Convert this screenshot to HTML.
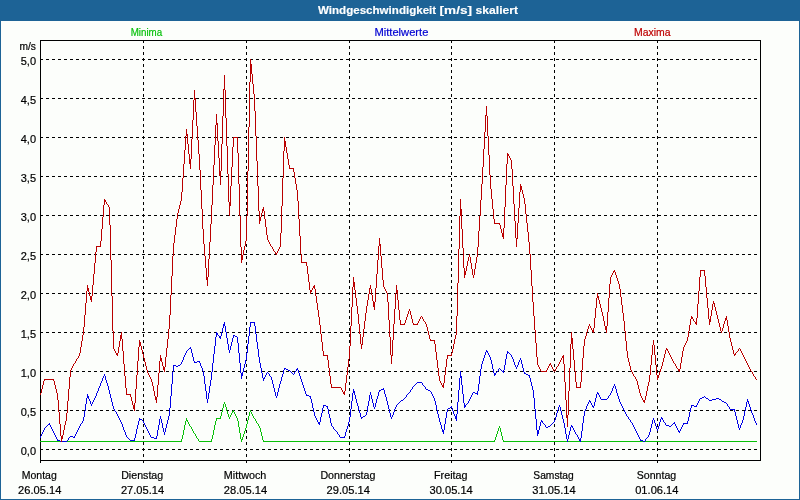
<!DOCTYPE html>
<html><head><meta charset="utf-8"><title>Windgeschwindigkeit</title>
<style>
html,body{margin:0;padding:0;background:#1d6396;}
body{width:800px;height:500px;overflow:hidden;font-family:"Liberation Sans",sans-serif;}
svg{display:block;will-change:transform;font-family:"Liberation Sans",sans-serif;font-size:11px;}
</style></head><body>
<svg width="800" height="500" viewBox="0 0 800 500">
<rect x="0" y="0" width="800" height="500" fill="#1d6396"/>
<rect x="0" y="0" width="800" height="20" fill="#1d6396"/>
<rect x="1" y="21" width="798" height="478" fill="#fcfefb"/>
<g fill="#ffffff" font-weight="bold" stroke="#ffffff" stroke-width="0.15">
<text x="318" y="14" textLength="118.2" lengthAdjust="spacingAndGlyphs">Windgeschwindigkeit</text>
<text x="439.6" y="14" textLength="32.4" lengthAdjust="spacingAndGlyphs">[m/s]</text>
<text x="475.6" y="14" textLength="42.4" lengthAdjust="spacingAndGlyphs">skaliert</text>
</g>
<text x="130.7" y="36" fill="#06c00a" stroke="#06c00a" stroke-width="0.2" textLength="31.5" lengthAdjust="spacingAndGlyphs">Minima</text>
<text x="374.4" y="36" fill="#0000d2" stroke="#0000d2" stroke-width="0.2" textLength="54" lengthAdjust="spacingAndGlyphs">Mittelwerte</text>
<text x="634" y="36" fill="#be0000" stroke="#be0000" stroke-width="0.2" textLength="36.5" lengthAdjust="spacingAndGlyphs">Maxima</text>
<g stroke="#000" stroke-width="1" stroke-dasharray="3,3" shape-rendering="crispEdges" fill="none">
<line x1="40" y1="59.5" x2="760" y2="59.5"/>
<line x1="40" y1="98.5" x2="760" y2="98.5"/>
<line x1="40" y1="137.5" x2="760" y2="137.5"/>
<line x1="40" y1="176.5" x2="760" y2="176.5"/>
<line x1="40" y1="215.5" x2="760" y2="215.5"/>
<line x1="40" y1="254.5" x2="760" y2="254.5"/>
<line x1="40" y1="293.5" x2="760" y2="293.5"/>
<line x1="40" y1="332.5" x2="760" y2="332.5"/>
<line x1="40" y1="371.5" x2="760" y2="371.5"/>
<line x1="40" y1="410.5" x2="760" y2="410.5"/>
<line x1="40" y1="449.5" x2="760" y2="449.5"/>
<line x1="143.5" y1="40" x2="143.5" y2="463"/>
<line x1="246.5" y1="40" x2="246.5" y2="463"/>
<line x1="349.5" y1="40" x2="349.5" y2="463"/>
<line x1="451.5" y1="40" x2="451.5" y2="463"/>
<line x1="554.5" y1="40" x2="554.5" y2="463"/>
<line x1="657.5" y1="40" x2="657.5" y2="463"/>
</g>
<rect x="40.5" y="40.5" width="720" height="420" fill="none" stroke="#000" stroke-width="1" shape-rendering="crispEdges"/>
<rect x="40" y="461" width="1" height="2" fill="#000" shape-rendering="crispEdges"/>
<g stroke="none" shape-rendering="crispEdges">
<path fill="#08c008" d="M40 441h142v1h-142zM199 441h13v1h-13zM263 441h232v1h-232zM503 441h254v1h-254zM216 418h5v1h-5zM181 439h1v2h-1zM182 435h1v4h-1zM183 430h1v5h-1zM184 425h1v5h-1zM185 421h1v4h-1zM186 418h1v3h-1zM187 420h1v2h-1zM188 422h1v2h-1zM189 424h1v2h-1zM190 426h1v1h-1zM191 427h1v2h-1zM192 429h1v2h-1zM193 431h1v2h-1zM194 433h1v1h-1zM195 434h1v2h-1zM196 436h1v2h-1zM197 438h1v1h-1zM198 439h1v2h-1zM211 439h1v2h-1zM212 435h1v4h-1zM213 430h1v5h-1zM214 425h1v5h-1zM215 421h1v4h-1zM216 419h1v2h-1zM220 416h1v2h-1zM221 412h1v4h-1zM222 408h1v4h-1zM223 404h1v4h-1zM224 402h1v2h-1zM225 404h1v3h-1zM226 407h1v4h-1zM227 411h1v3h-1zM228 414h1v3h-1zM229 417h1v2h-1zM230 415h1v2h-1zM231 413h1v2h-1zM232 411h1v2h-1zM233 410h1v2h-1zM234 412h1v2h-1zM235 414h1v2h-1zM236 416h1v2h-1zM237 418h1v3h-1zM238 421h1v6h-1zM239 427h1v6h-1zM240 433h1v6h-1zM241 439h1v3h-1zM242 437h1v3h-1zM243 434h1v3h-1zM244 431h1v3h-1zM245 428h1v3h-1zM246 424h1v4h-1zM247 420h1v4h-1zM248 416h1v4h-1zM249 412h1v4h-1zM250 410h1v2h-1zM251 412h1v2h-1zM252 414h1v2h-1zM253 416h1v2h-1zM254 418h1v1h-1zM255 419h1v2h-1zM256 421h1v2h-1zM257 423h1v1h-1zM258 424h1v2h-1zM259 426h1v2h-1zM260 428h1v4h-1zM261 432h1v4h-1zM262 436h1v4h-1zM263 440h1v1h-1zM494 440h1v1h-1zM495 437h1v3h-1zM496 434h1v3h-1zM497 431h1v3h-1zM498 428h1v3h-1zM499 426h1v2h-1zM500 428h1v4h-1zM501 432h1v4h-1zM502 436h1v4h-1zM503 440h1v1h-1z"/>
<path fill="#0000e6" d="M709 400h3v1h-3zM173 365h3v1h-3zM716 398h3v1h-3zM694 406h3v1h-3zM306 395h3v1h-3zM601 399h6v1h-6zM712 399h4v1h-4zM57 440h3v1h-3zM130 440h5v1h-5zM640 440h3v1h-3zM197 361h3v1h-3zM683 423h5v1h-5zM60 441h7v1h-7zM139 419h3v1h-3zM666 425h3v1h-3zM154 438h3v1h-3zM730 409h5v1h-5zM417 382h5v1h-5zM381 389h3v1h-3zM70 436h3v1h-3zM475 393h3v1h-3zM151 437h3v1h-3zM340 437h5v1h-5zM194 362h3v1h-3zM323 405h3v1h-3zM691 405h3v1h-3zM250 322h5v1h-5zM40 436h1v2h-1zM41 434h1v2h-1zM42 432h1v2h-1zM43 430h1v2h-1zM44 428h1v2h-1zM45 427h1v1h-1zM46 426h1v1h-1zM47 425h1v1h-1zM48 424h1v1h-1zM49 423h1v2h-1zM50 425h1v2h-1zM51 427h1v2h-1zM52 429h1v2h-1zM53 431h1v2h-1zM54 433h1v2h-1zM55 435h1v2h-1zM56 437h1v2h-1zM57 439h1v1h-1zM67 440h1v1h-1zM68 438h1v2h-1zM69 437h1v1h-1zM73 437h1v1h-1zM74 436h1v2h-1zM75 434h1v2h-1zM76 432h1v2h-1zM77 430h1v2h-1zM78 428h1v2h-1zM79 426h1v2h-1zM80 424h1v2h-1zM81 423h1v1h-1zM82 421h1v2h-1zM83 417h1v4h-1zM84 411h1v6h-1zM85 404h1v7h-1zM86 398h1v6h-1zM87 394h1v4h-1zM88 396h1v3h-1zM89 399h1v2h-1zM90 401h1v3h-1zM91 404h1v2h-1zM92 402h1v2h-1zM93 400h1v2h-1zM94 398h1v2h-1zM95 396h1v2h-1zM96 393h1v3h-1zM97 391h1v2h-1zM98 388h1v3h-1zM99 386h1v2h-1zM100 383h1v3h-1zM101 381h1v2h-1zM102 378h1v3h-1zM103 376h1v2h-1zM104 374h1v2h-1zM105 376h1v4h-1zM106 380h1v3h-1zM107 383h1v3h-1zM108 386h1v4h-1zM109 390h1v4h-1zM110 394h1v4h-1zM111 398h1v4h-1zM112 402h1v4h-1zM113 406h1v3h-1zM114 409h1v2h-1zM115 411h1v1h-1zM116 412h1v2h-1zM117 414h1v2h-1zM118 416h1v2h-1zM119 418h1v2h-1zM120 420h1v2h-1zM121 422h1v2h-1zM122 424h1v3h-1zM123 427h1v3h-1zM124 430h1v2h-1zM125 432h1v3h-1zM126 435h1v2h-1zM127 437h1v1h-1zM128 438h1v1h-1zM129 439h1v1h-1zM134 438h1v2h-1zM135 434h1v4h-1zM136 429h1v5h-1zM137 425h1v4h-1zM138 421h1v4h-1zM139 418h1v1h-1zM139 420h1v1h-1zM142 420h1v1h-1zM143 421h1v2h-1zM144 423h1v2h-1zM145 425h1v2h-1zM146 427h1v2h-1zM147 429h1v2h-1zM148 431h1v2h-1zM149 433h1v2h-1zM150 435h1v2h-1zM156 436h1v2h-1zM157 430h1v6h-1zM158 425h1v5h-1zM159 419h1v6h-1zM160 416h1v3h-1zM161 419h1v4h-1zM162 423h1v5h-1zM163 428h1v4h-1zM164 432h1v3h-1zM165 428h1v4h-1zM166 424h1v4h-1zM167 420h1v4h-1zM168 416h1v4h-1zM169 408h1v8h-1zM170 396h1v12h-1zM171 384h1v12h-1zM172 372h1v12h-1zM173 366h1v6h-1zM176 366h1v1h-1zM177 366h1v1h-1zM178 365h1v1h-1zM179 365h1v1h-1zM180 364h1v1h-1zM181 362h1v2h-1zM182 360h1v2h-1zM183 357h1v3h-1zM184 355h1v2h-1zM185 353h1v2h-1zM186 351h1v2h-1zM187 350h1v1h-1zM188 349h1v1h-1zM189 348h1v1h-1zM190 347h1v2h-1zM191 349h1v4h-1zM192 353h1v4h-1zM193 357h1v4h-1zM194 361h1v1h-1zM199 362h1v1h-1zM200 363h1v3h-1zM201 366h1v2h-1zM202 368h1v3h-1zM203 371h1v5h-1zM204 376h1v8h-1zM205 384h1v7h-1zM206 391h1v8h-1zM207 399h1v4h-1zM208 393h1v6h-1zM209 386h1v7h-1zM210 380h1v6h-1zM211 372h1v8h-1zM212 363h1v9h-1zM213 354h1v9h-1zM214 346h1v8h-1zM215 337h1v9h-1zM216 332h1v5h-1zM217 333h1v2h-1zM218 335h1v1h-1zM219 336h1v2h-1zM220 336h1v3h-1zM221 332h1v4h-1zM222 328h1v4h-1zM223 324h1v4h-1zM224 322h1v4h-1zM225 326h1v6h-1zM226 332h1v6h-1zM227 338h1v6h-1zM228 344h1v6h-1zM229 350h1v3h-1zM230 346h1v4h-1zM231 342h1v4h-1zM232 338h1v4h-1zM233 335h1v3h-1zM234 335h1v1h-1zM235 336h1v1h-1zM236 336h1v1h-1zM237 337h1v6h-1zM238 343h1v10h-1zM239 353h1v10h-1zM240 363h1v10h-1zM241 373h1v6h-1zM242 372h1v4h-1zM243 368h1v4h-1zM244 364h1v4h-1zM245 360h1v4h-1zM246 353h1v7h-1zM247 344h1v9h-1zM248 336h1v8h-1zM249 327h1v9h-1zM250 323h1v4h-1zM254 323h1v3h-1zM255 326h1v8h-1zM256 334h1v8h-1zM257 342h1v7h-1zM258 349h1v8h-1zM259 357h1v6h-1zM260 363h1v5h-1zM261 368h1v5h-1zM262 373h1v5h-1zM263 378h1v3h-1zM264 377h1v2h-1zM265 375h1v2h-1zM266 373h1v2h-1zM267 372h1v1h-1zM268 373h1v1h-1zM269 374h1v2h-1zM270 376h1v1h-1zM271 377h1v3h-1zM272 380h1v4h-1zM273 384h1v4h-1zM274 388h1v4h-1zM275 392h1v4h-1zM276 396h1v2h-1zM277 392h1v4h-1zM278 388h1v4h-1zM279 384h1v4h-1zM280 381h1v3h-1zM281 377h1v4h-1zM282 374h1v3h-1zM283 370h1v4h-1zM284 368h1v2h-1zM285 368h1v1h-1zM286 369h1v1h-1zM287 369h1v1h-1zM288 370h1v1h-1zM289 370h1v1h-1zM290 371h1v1h-1zM291 372h1v1h-1zM292 373h1v1h-1zM293 374h1v1h-1zM294 372h1v2h-1zM295 371h1v1h-1zM296 369h1v2h-1zM297 368h1v2h-1zM298 370h1v3h-1zM299 373h1v3h-1zM300 376h1v3h-1zM301 379h1v3h-1zM302 382h1v3h-1zM303 385h1v3h-1zM304 388h1v3h-1zM305 391h1v3h-1zM306 394h1v1h-1zM309 396h1v1h-1zM310 396h1v3h-1zM311 399h1v4h-1zM312 403h1v5h-1zM313 408h1v4h-1zM314 412h1v4h-1zM315 416h1v2h-1zM316 418h1v2h-1zM317 420h1v2h-1zM318 422h1v2h-1zM319 422h1v3h-1zM320 417h1v5h-1zM321 413h1v4h-1zM322 408h1v5h-1zM323 406h1v2h-1zM326 406h1v1h-1zM327 406h1v3h-1zM328 409h1v5h-1zM329 414h1v4h-1zM330 418h1v5h-1zM331 423h1v3h-1zM332 426h1v1h-1zM333 427h1v2h-1zM334 429h1v1h-1zM335 430h1v1h-1zM336 431h1v1h-1zM337 432h1v2h-1zM338 434h1v1h-1zM339 435h1v2h-1zM344 436h1v1h-1zM345 432h1v4h-1zM346 429h1v3h-1zM347 426h1v3h-1zM348 422h1v4h-1zM349 417h1v5h-1zM350 409h1v8h-1zM351 401h1v8h-1zM352 393h1v8h-1zM353 389h1v4h-1zM354 391h1v4h-1zM355 395h1v4h-1zM356 399h1v4h-1zM357 403h1v3h-1zM358 406h1v4h-1zM359 410h1v3h-1zM360 413h1v4h-1zM361 417h1v2h-1zM362 417h1v1h-1zM363 416h1v1h-1zM364 416h1v1h-1zM365 415h1v1h-1zM366 412h1v3h-1zM367 406h1v6h-1zM368 401h1v5h-1zM369 395h1v6h-1zM370 392h1v3h-1zM371 395h1v4h-1zM372 399h1v4h-1zM373 403h1v4h-1zM374 407h1v2h-1zM375 403h1v4h-1zM376 399h1v4h-1zM377 396h1v3h-1zM378 392h1v4h-1zM379 390h1v2h-1zM380 390h1v1h-1zM383 388h1v1h-1zM384 390h1v4h-1zM385 394h1v3h-1zM386 397h1v4h-1zM387 401h1v4h-1zM388 405h1v4h-1zM389 409h1v4h-1zM390 413h1v4h-1zM391 417h1v2h-1zM392 415h1v2h-1zM393 412h1v3h-1zM394 409h1v3h-1zM395 407h1v2h-1zM396 405h1v2h-1zM397 404h1v1h-1zM398 403h1v1h-1zM399 402h1v1h-1zM400 401h1v1h-1zM401 400h1v1h-1zM402 400h1v1h-1zM403 399h1v1h-1zM404 398h1v1h-1zM405 397h1v1h-1zM406 395h1v2h-1zM407 394h1v1h-1zM408 393h1v1h-1zM409 392h1v1h-1zM410 390h1v2h-1zM411 389h1v1h-1zM412 387h1v2h-1zM413 386h1v1h-1zM414 385h1v1h-1zM415 384h1v1h-1zM416 383h1v1h-1zM422 383h1v2h-1zM423 385h1v1h-1zM424 386h1v1h-1zM425 387h1v2h-1zM426 389h1v1h-1zM427 389h1v1h-1zM428 390h1v1h-1zM429 390h1v1h-1zM430 391h1v1h-1zM431 392h1v2h-1zM432 394h1v2h-1zM433 396h1v2h-1zM434 398h1v3h-1zM435 401h1v4h-1zM436 405h1v5h-1zM437 410h1v4h-1zM438 414h1v4h-1zM439 418h1v4h-1zM440 422h1v3h-1zM441 425h1v4h-1zM442 429h1v3h-1zM443 430h1v4h-1zM444 424h1v6h-1zM445 418h1v6h-1zM446 412h1v6h-1zM447 409h1v3h-1zM448 408h1v1h-1zM449 408h1v1h-1zM450 407h1v1h-1zM451 406h1v2h-1zM452 408h1v3h-1zM453 411h1v3h-1zM454 414h1v2h-1zM455 416h1v3h-1zM456 414h1v7h-1zM457 402h1v12h-1zM458 390h1v12h-1zM459 378h1v12h-1zM460 371h1v7h-1zM461 376h1v9h-1zM462 385h1v9h-1zM463 394h1v9h-1zM464 403h1v5h-1zM465 405h1v2h-1zM466 404h1v1h-1zM467 403h1v1h-1zM468 401h1v2h-1zM469 399h1v2h-1zM470 397h1v2h-1zM471 395h1v2h-1zM472 393h1v2h-1zM473 392h1v1h-1zM474 392h1v1h-1zM477 391h1v2h-1zM477 394h1v1h-1zM478 384h1v7h-1zM479 376h1v8h-1zM480 369h1v7h-1zM481 364h1v5h-1zM482 361h1v3h-1zM483 358h1v3h-1zM484 355h1v3h-1zM485 352h1v3h-1zM486 350h1v2h-1zM487 351h1v2h-1zM488 353h1v2h-1zM489 355h1v2h-1zM490 357h1v3h-1zM491 360h1v4h-1zM492 364h1v5h-1zM493 369h1v4h-1zM494 373h1v3h-1zM495 373h1v2h-1zM496 372h1v1h-1zM497 371h1v1h-1zM498 369h1v2h-1zM499 368h1v1h-1zM500 369h1v1h-1zM501 370h1v1h-1zM502 371h1v1h-1zM503 370h1v3h-1zM504 365h1v5h-1zM505 359h1v6h-1zM506 354h1v5h-1zM507 351h1v3h-1zM508 352h1v1h-1zM509 353h1v1h-1zM510 354h1v1h-1zM511 355h1v2h-1zM512 357h1v2h-1zM513 359h1v3h-1zM514 362h1v3h-1zM515 365h1v2h-1zM516 367h1v2h-1zM517 365h1v2h-1zM518 362h1v3h-1zM519 360h1v2h-1zM520 358h1v2h-1zM521 360h1v4h-1zM522 364h1v4h-1zM523 368h1v4h-1zM524 372h1v2h-1zM525 373h1v1h-1zM526 374h1v1h-1zM527 374h1v1h-1zM528 375h1v1h-1zM529 375h1v3h-1zM530 378h1v4h-1zM531 382h1v4h-1zM532 386h1v4h-1zM533 390h1v8h-1zM534 398h1v11h-1zM535 409h1v10h-1zM536 419h1v11h-1zM537 430h1v6h-1zM538 430h1v4h-1zM539 426h1v4h-1zM540 422h1v4h-1zM541 420h1v2h-1zM542 421h1v2h-1zM543 423h1v1h-1zM544 424h1v1h-1zM545 425h1v2h-1zM546 427h1v1h-1zM547 427h1v1h-1zM548 426h1v1h-1zM549 426h1v1h-1zM550 425h1v1h-1zM551 424h1v1h-1zM552 423h1v1h-1zM553 422h1v1h-1zM554 420h1v2h-1zM555 417h1v3h-1zM556 413h1v4h-1zM557 410h1v3h-1zM558 407h1v3h-1zM559 405h1v2h-1zM560 407h1v4h-1zM561 411h1v4h-1zM562 415h1v4h-1zM563 419h1v4h-1zM564 423h1v5h-1zM565 428h1v6h-1zM566 434h1v5h-1zM567 439h1v3h-1zM568 435h1v4h-1zM569 431h1v4h-1zM570 427h1v4h-1zM571 425h1v2h-1zM572 426h1v2h-1zM573 428h1v2h-1zM574 430h1v2h-1zM575 432h1v2h-1zM576 434h1v1h-1zM577 435h1v2h-1zM578 437h1v2h-1zM579 439h1v2h-1zM580 438h1v4h-1zM581 431h1v7h-1zM582 423h1v8h-1zM583 416h1v7h-1zM584 411h1v5h-1zM585 409h1v2h-1zM586 406h1v3h-1zM587 404h1v2h-1zM588 402h1v2h-1zM589 400h1v2h-1zM590 401h1v2h-1zM591 403h1v2h-1zM592 405h1v2h-1zM593 406h1v2h-1zM594 402h1v4h-1zM595 398h1v4h-1zM596 394h1v4h-1zM597 392h1v2h-1zM598 393h1v2h-1zM599 395h1v2h-1zM600 397h1v2h-1zM607 398h1v1h-1zM608 396h1v2h-1zM609 395h1v1h-1zM610 393h1v2h-1zM611 391h1v2h-1zM612 388h1v3h-1zM613 386h1v2h-1zM614 384h1v2h-1zM615 386h1v3h-1zM616 389h1v4h-1zM617 393h1v3h-1zM618 396h1v3h-1zM619 399h1v3h-1zM620 402h1v2h-1zM621 404h1v2h-1zM622 406h1v2h-1zM623 408h1v2h-1zM624 410h1v2h-1zM625 412h1v2h-1zM626 414h1v2h-1zM627 416h1v1h-1zM628 417h1v2h-1zM629 419h1v1h-1zM630 420h1v2h-1zM631 422h1v1h-1zM632 423h1v2h-1zM633 425h1v2h-1zM634 427h1v2h-1zM635 429h1v2h-1zM636 431h1v2h-1zM637 433h1v2h-1zM638 435h1v2h-1zM639 437h1v2h-1zM640 439h1v1h-1zM643 441h1v1h-1zM644 441h1v1h-1zM645 439h1v2h-1zM646 438h1v1h-1zM647 437h1v1h-1zM648 435h1v2h-1zM649 432h1v3h-1zM650 428h1v4h-1zM651 424h1v4h-1zM652 420h1v4h-1zM653 418h1v2h-1zM654 420h1v3h-1zM655 423h1v3h-1zM656 426h1v3h-1zM657 429h1v2h-1zM658 426h1v3h-1zM659 422h1v4h-1zM660 419h1v3h-1zM661 417h1v2h-1zM662 418h1v2h-1zM663 420h1v2h-1zM664 422h1v1h-1zM665 423h1v2h-1zM669 426h1v1h-1zM670 426h1v1h-1zM671 425h1v1h-1zM672 424h1v1h-1zM673 423h1v1h-1zM674 422h1v2h-1zM675 424h1v2h-1zM676 426h1v2h-1zM677 428h1v2h-1zM678 430h1v2h-1zM679 431h1v2h-1zM680 429h1v2h-1zM681 427h1v2h-1zM682 425h1v2h-1zM683 424h1v1h-1zM687 421h1v2h-1zM688 417h1v4h-1zM689 412h1v5h-1zM690 408h1v4h-1zM691 406h1v2h-1zM696 405h1v1h-1zM697 403h1v2h-1zM698 401h1v2h-1zM699 399h1v2h-1zM700 398h1v1h-1zM701 398h1v1h-1zM702 397h1v1h-1zM703 397h1v1h-1zM704 396h1v1h-1zM705 397h1v1h-1zM706 398h1v1h-1zM707 398h1v1h-1zM708 399h1v1h-1zM719 399h1v1h-1zM720 399h1v1h-1zM721 400h1v1h-1zM722 401h1v1h-1zM723 401h1v1h-1zM724 402h1v1h-1zM725 402h1v1h-1zM726 403h1v1h-1zM727 404h1v2h-1zM728 406h1v1h-1zM729 407h1v2h-1zM734 410h1v2h-1zM735 412h1v4h-1zM736 416h1v4h-1zM737 420h1v4h-1zM738 424h1v4h-1zM739 428h1v2h-1zM740 425h1v3h-1zM741 423h1v2h-1zM742 420h1v3h-1zM743 416h1v4h-1zM744 411h1v5h-1zM745 407h1v4h-1zM746 402h1v5h-1zM747 399h1v3h-1zM748 401h1v3h-1zM749 404h1v3h-1zM750 407h1v3h-1zM751 410h1v3h-1zM752 413h1v2h-1zM753 415h1v3h-1zM754 418h1v3h-1zM755 421h1v2h-1zM756 423h1v2h-1z"/>
<path fill="#ba0000" d="M289 168h5v1h-5zM400 324h5v1h-5zM413 324h5v1h-5zM323 355h5v1h-5zM447 355h5v1h-5zM541 371h6v1h-6zM700 270h5v1h-5zM126 394h5v1h-5zM430 340h5v1h-5zM494 223h6v1h-6zM331 387h10v1h-10zM576 387h5v1h-5zM301 262h6v1h-6zM96 246h5v1h-5zM44 379h10v1h-10zM233 137h5v1h-5zM40 393h1v2h-1zM41 389h1v4h-1zM42 385h1v4h-1zM43 381h1v4h-1zM44 380h1v1h-1zM53 380h1v1h-1zM54 381h1v4h-1zM55 385h1v4h-1zM56 389h1v4h-1zM57 393h1v7h-1zM58 400h1v12h-1zM59 412h1v12h-1zM60 424h1v12h-1zM61 436h1v6h-1zM62 435h1v4h-1zM63 430h1v5h-1zM64 425h1v5h-1zM65 421h1v4h-1zM66 413h1v8h-1zM67 401h1v12h-1zM68 389h1v12h-1zM69 377h1v12h-1zM70 370h1v7h-1zM71 368h1v2h-1zM72 366h1v2h-1zM73 364h1v2h-1zM74 363h1v1h-1zM75 361h1v2h-1zM76 359h1v2h-1zM77 358h1v1h-1zM78 356h1v2h-1zM79 353h1v3h-1zM80 347h1v6h-1zM81 341h1v6h-1zM82 335h1v6h-1zM83 327h1v8h-1zM84 315h1v12h-1zM85 303h1v12h-1zM86 291h1v12h-1zM87 285h1v6h-1zM88 288h1v4h-1zM89 292h1v4h-1zM90 296h1v4h-1zM91 296h1v6h-1zM92 285h1v11h-1zM93 274h1v11h-1zM94 263h1v11h-1zM95 252h1v11h-1zM96 247h1v5h-1zM100 241h1v5h-1zM101 229h1v12h-1zM102 217h1v12h-1zM103 205h1v12h-1zM104 199h1v6h-1zM105 200h1v2h-1zM106 202h1v2h-1zM107 204h1v1h-1zM108 205h1v2h-1zM109 207h1v18h-1zM110 225h1v35h-1zM111 260h1v36h-1zM112 296h1v35h-1zM113 331h1v18h-1zM114 349h1v2h-1zM115 351h1v2h-1zM116 353h1v2h-1zM117 353h1v3h-1zM118 347h1v6h-1zM119 341h1v6h-1zM120 335h1v6h-1zM121 332h1v7h-1zM122 339h1v12h-1zM123 351h1v13h-1zM124 364h1v12h-1zM125 376h1v12h-1zM126 388h1v6h-1zM130 395h1v2h-1zM131 397h1v4h-1zM132 401h1v4h-1zM133 405h1v4h-1zM134 403h1v8h-1zM135 389h1v14h-1zM136 375h1v14h-1zM137 361h1v14h-1zM138 347h1v14h-1zM139 340h1v7h-1zM140 342h1v4h-1zM141 346h1v4h-1zM142 350h1v4h-1zM143 354h1v4h-1zM144 358h1v4h-1zM145 362h1v4h-1zM146 366h1v4h-1zM147 370h1v3h-1zM148 373h1v2h-1zM149 375h1v2h-1zM150 377h1v2h-1zM151 379h1v3h-1zM152 382h1v4h-1zM153 386h1v5h-1zM154 391h1v5h-1zM155 396h1v4h-1zM156 397h1v6h-1zM157 385h1v12h-1zM158 373h1v12h-1zM159 361h1v12h-1zM160 355h1v6h-1zM161 358h1v4h-1zM162 362h1v4h-1zM163 366h1v4h-1zM164 367h1v5h-1zM165 357h1v10h-1zM166 348h1v9h-1zM167 339h1v9h-1zM168 329h1v10h-1zM169 315h1v14h-1zM170 295h1v20h-1zM171 276h1v19h-1zM172 256h1v20h-1zM173 243h1v13h-1zM174 235h1v8h-1zM175 227h1v8h-1zM176 219h1v8h-1zM177 213h1v6h-1zM178 209h1v4h-1zM179 205h1v4h-1zM180 201h1v4h-1zM181 192h1v9h-1zM182 178h1v14h-1zM183 164h1v14h-1zM184 150h1v14h-1zM185 136h1v14h-1zM186 129h1v7h-1zM187 134h1v10h-1zM188 144h1v10h-1zM189 154h1v10h-1zM190 159h1v10h-1zM191 139h1v20h-1zM192 120h1v19h-1zM193 100h1v20h-1zM194 90h1v10h-1zM195 98h1v14h-1zM196 112h1v14h-1zM197 126h1v14h-1zM198 140h1v14h-1zM199 154h1v16h-1zM200 170h1v20h-1zM201 190h1v19h-1zM202 209h1v20h-1zM203 229h1v15h-1zM204 244h1v12h-1zM205 256h1v12h-1zM206 268h1v12h-1zM207 277h1v9h-1zM208 259h1v18h-1zM209 242h1v17h-1zM210 224h1v18h-1zM211 205h1v19h-1zM212 185h1v20h-1zM213 165h1v20h-1zM214 145h1v20h-1zM215 125h1v20h-1zM216 114h1v11h-1zM217 123h1v18h-1zM218 141h1v17h-1zM219 158h1v18h-1zM220 171h1v14h-1zM221 144h1v27h-1zM222 116h1v28h-1zM223 89h1v27h-1zM224 75h1v15h-1zM225 90h1v28h-1zM226 118h1v28h-1zM227 146h1v28h-1zM228 174h1v28h-1zM229 202h1v14h-1zM230 186h1v20h-1zM231 167h1v19h-1zM232 147h1v20h-1zM233 138h1v9h-1zM237 138h1v15h-1zM238 153h1v31h-1zM239 184h1v32h-1zM240 216h1v31h-1zM241 247h1v16h-1zM242 255h1v5h-1zM243 250h1v5h-1zM244 246h1v4h-1zM245 241h1v5h-1zM246 216h1v25h-1zM247 171h1v45h-1zM248 127h1v44h-1zM249 82h1v45h-1zM250 59h1v23h-1zM251 64h1v10h-1zM252 74h1v10h-1zM253 84h1v10h-1zM254 94h1v17h-1zM255 111h1v25h-1zM256 136h1v25h-1zM257 161h1v25h-1zM258 186h1v25h-1zM259 211h1v13h-1zM260 217h1v4h-1zM261 213h1v4h-1zM262 209h1v4h-1zM263 207h1v4h-1zM264 211h1v8h-1zM265 219h1v8h-1zM266 227h1v8h-1zM267 235h1v5h-1zM268 240h1v2h-1zM269 242h1v2h-1zM270 244h1v2h-1zM271 246h1v1h-1zM272 247h1v2h-1zM273 249h1v2h-1zM274 251h1v1h-1zM275 252h1v2h-1zM276 253h1v2h-1zM277 251h1v2h-1zM278 249h1v2h-1zM279 247h1v2h-1zM280 233h1v14h-1zM281 206h1v27h-1zM282 178h1v28h-1zM283 151h1v27h-1zM284 137h1v14h-1zM285 141h1v6h-1zM286 147h1v6h-1zM287 153h1v6h-1zM288 159h1v6h-1zM289 165h1v3h-1zM293 169h1v3h-1zM294 172h1v6h-1zM295 178h1v6h-1zM296 184h1v6h-1zM297 190h1v11h-1zM298 201h1v18h-1zM299 219h1v17h-1zM300 236h1v18h-1zM301 254h1v8h-1zM306 263h1v3h-1zM307 266h1v8h-1zM308 274h1v8h-1zM309 282h1v8h-1zM310 290h1v4h-1zM311 290h1v2h-1zM312 288h1v2h-1zM313 286h1v2h-1zM314 285h1v4h-1zM315 289h1v7h-1zM316 296h1v7h-1zM317 303h1v7h-1zM318 310h1v7h-1zM319 317h1v8h-1zM320 325h1v9h-1zM321 334h1v8h-1zM322 342h1v9h-1zM323 351h1v4h-1zM327 356h1v4h-1zM328 360h1v8h-1zM329 368h1v8h-1zM330 376h1v8h-1zM331 384h1v3h-1zM341 388h1v2h-1zM342 390h1v2h-1zM343 392h1v2h-1zM344 391h1v4h-1zM345 383h1v8h-1zM346 375h1v8h-1zM347 367h1v8h-1zM348 359h1v8h-1zM349 346h1v13h-1zM350 326h1v20h-1zM351 307h1v19h-1zM352 287h1v20h-1zM353 277h1v10h-1zM354 282h1v8h-1zM355 290h1v8h-1zM356 298h1v8h-1zM357 306h1v8h-1zM358 314h1v10h-1zM359 324h1v10h-1zM360 334h1v10h-1zM361 344h1v5h-1zM362 337h1v8h-1zM363 329h1v8h-1zM364 321h1v8h-1zM365 313h1v8h-1zM366 306h1v7h-1zM367 300h1v6h-1zM368 294h1v6h-1zM369 288h1v6h-1zM370 285h1v4h-1zM371 289h1v6h-1zM372 295h1v6h-1zM373 301h1v6h-1zM374 302h1v8h-1zM375 288h1v14h-1zM376 274h1v14h-1zM377 260h1v14h-1zM378 246h1v14h-1zM379 238h1v8h-1zM380 244h1v12h-1zM381 256h1v12h-1zM382 268h1v12h-1zM383 280h1v7h-1zM384 287h1v2h-1zM385 289h1v2h-1zM386 291h1v2h-1zM387 293h1v9h-1zM388 302h1v18h-1zM389 320h1v17h-1zM390 337h1v18h-1zM391 355h1v9h-1zM392 340h1v16h-1zM393 324h1v16h-1zM394 309h1v15h-1zM395 293h1v16h-1zM396 285h1v8h-1zM397 290h1v10h-1zM398 300h1v10h-1zM399 310h1v10h-1zM400 320h1v4h-1zM404 323h1v1h-1zM405 320h1v3h-1zM406 317h1v3h-1zM407 314h1v3h-1zM408 311h1v3h-1zM409 309h1v2h-1zM410 311h1v4h-1zM411 315h1v4h-1zM412 319h1v4h-1zM413 323h1v1h-1zM417 323h1v1h-1zM418 321h1v2h-1zM419 319h1v2h-1zM420 317h1v2h-1zM421 316h1v1h-1zM422 317h1v2h-1zM423 319h1v2h-1zM424 321h1v1h-1zM425 322h1v2h-1zM426 324h1v3h-1zM427 327h1v4h-1zM428 331h1v4h-1zM429 335h1v4h-1zM430 339h1v1h-1zM434 341h1v3h-1zM435 344h1v8h-1zM436 352h1v8h-1zM437 360h1v8h-1zM438 368h1v8h-1zM439 376h1v5h-1zM440 381h1v2h-1zM441 383h1v2h-1zM442 385h1v2h-1zM443 383h1v5h-1zM444 375h1v8h-1zM445 367h1v8h-1zM446 359h1v8h-1zM447 356h1v3h-1zM451 353h1v2h-1zM452 349h1v4h-1zM453 344h1v5h-1zM454 339h1v5h-1zM455 335h1v4h-1zM456 316h1v19h-1zM457 283h1v33h-1zM458 249h1v34h-1zM459 216h1v33h-1zM460 199h1v17h-1zM461 209h1v20h-1zM462 229h1v19h-1zM463 248h1v20h-1zM464 268h1v10h-1zM465 271h1v4h-1zM466 266h1v5h-1zM467 261h1v5h-1zM468 257h1v4h-1zM469 254h1v3h-1zM470 257h1v6h-1zM471 263h1v6h-1zM472 269h1v6h-1zM473 275h1v3h-1zM474 269h1v6h-1zM475 263h1v6h-1zM476 257h1v6h-1zM477 247h1v10h-1zM478 231h1v16h-1zM479 216h1v15h-1zM480 200h1v16h-1zM481 184h1v16h-1zM482 167h1v17h-1zM483 149h1v18h-1zM484 132h1v17h-1zM485 115h1v17h-1zM486 106h1v10h-1zM487 116h1v20h-1zM488 136h1v19h-1zM489 155h1v20h-1zM490 175h1v14h-1zM491 189h1v10h-1zM492 199h1v10h-1zM493 209h1v10h-1zM494 219h1v4h-1zM499 224h1v1h-1zM500 225h1v4h-1zM501 229h1v4h-1zM502 233h1v4h-1zM503 228h1v11h-1zM504 207h1v21h-1zM505 185h1v22h-1zM506 164h1v21h-1zM507 153h1v11h-1zM508 154h1v2h-1zM509 156h1v2h-1zM510 158h1v2h-1zM511 160h1v9h-1zM512 169h1v17h-1zM513 186h1v18h-1zM514 204h1v17h-1zM515 221h1v17h-1zM516 238h1v9h-1zM517 223h1v16h-1zM518 208h1v15h-1zM519 192h1v16h-1zM520 184h1v8h-1zM521 186h1v4h-1zM522 190h1v4h-1zM523 194h1v4h-1zM524 198h1v6h-1zM525 204h1v10h-1zM526 214h1v9h-1zM527 223h1v9h-1zM528 232h1v10h-1zM529 242h1v12h-1zM530 254h1v16h-1zM531 270h1v16h-1zM532 286h1v16h-1zM533 302h1v14h-1zM534 316h1v14h-1zM535 330h1v13h-1zM536 343h1v14h-1zM537 357h1v8h-1zM538 365h1v2h-1zM539 367h1v2h-1zM540 369h1v2h-1zM546 370h1v1h-1zM547 368h1v2h-1zM548 366h1v2h-1zM549 364h1v2h-1zM550 363h1v2h-1zM551 365h1v2h-1zM552 367h1v2h-1zM553 369h1v2h-1zM554 371h1v1h-1zM555 369h1v2h-1zM556 367h1v2h-1zM557 366h1v1h-1zM558 364h1v2h-1zM559 362h1v2h-1zM560 360h1v2h-1zM561 358h1v2h-1zM562 356h1v2h-1zM563 355h1v9h-1zM564 364h1v18h-1zM565 382h1v18h-1zM566 400h1v18h-1zM567 415h1v12h-1zM568 391h1v24h-1zM569 368h1v23h-1zM570 344h1v24h-1zM571 332h1v12h-1zM572 338h1v11h-1zM573 349h1v11h-1zM574 360h1v11h-1zM575 371h1v11h-1zM576 382h1v5h-1zM580 382h1v5h-1zM581 370h1v12h-1zM582 358h1v12h-1zM583 346h1v12h-1zM584 339h1v7h-1zM585 336h1v3h-1zM586 332h1v4h-1zM587 329h1v3h-1zM588 326h1v3h-1zM589 324h1v2h-1zM590 326h1v2h-1zM591 328h1v2h-1zM592 330h1v2h-1zM593 328h1v5h-1zM594 318h1v10h-1zM595 308h1v10h-1zM596 298h1v10h-1zM597 293h1v5h-1zM598 296h1v4h-1zM599 300h1v4h-1zM600 304h1v4h-1zM601 308h1v4h-1zM602 312h1v4h-1zM603 316h1v5h-1zM604 321h1v5h-1zM605 326h1v4h-1zM606 326h1v7h-1zM607 312h1v14h-1zM608 298h1v14h-1zM609 284h1v14h-1zM610 277h1v7h-1zM611 275h1v2h-1zM612 273h1v2h-1zM613 271h1v2h-1zM614 270h1v2h-1zM615 272h1v3h-1zM616 275h1v3h-1zM617 278h1v3h-1zM618 281h1v3h-1zM619 284h1v5h-1zM620 289h1v8h-1zM621 297h1v8h-1zM622 305h1v8h-1zM623 313h1v8h-1zM624 321h1v10h-1zM625 331h1v10h-1zM626 341h1v10h-1zM627 351h1v7h-1zM628 358h1v4h-1zM629 362h1v4h-1zM630 366h1v4h-1zM631 370h1v2h-1zM632 372h1v2h-1zM633 374h1v2h-1zM634 376h1v1h-1zM635 377h1v2h-1zM636 379h1v2h-1zM637 381h1v4h-1zM638 385h1v4h-1zM639 389h1v4h-1zM640 393h1v3h-1zM641 396h1v2h-1zM642 398h1v2h-1zM643 400h1v2h-1zM644 400h1v3h-1zM645 396h1v4h-1zM646 391h1v5h-1zM647 386h1v5h-1zM648 382h1v4h-1zM649 375h1v7h-1zM650 365h1v10h-1zM651 355h1v10h-1zM652 345h1v10h-1zM653 340h1v5h-1zM654 345h1v10h-1zM655 355h1v10h-1zM656 365h1v10h-1zM657 375h1v5h-1zM658 375h1v3h-1zM659 372h1v3h-1zM660 369h1v3h-1zM661 366h1v3h-1zM662 362h1v4h-1zM663 358h1v4h-1zM664 354h1v4h-1zM665 350h1v4h-1zM666 348h1v2h-1zM667 349h1v2h-1zM668 351h1v2h-1zM669 353h1v2h-1zM670 355h1v2h-1zM671 357h1v2h-1zM672 359h1v2h-1zM673 361h1v2h-1zM674 363h1v1h-1zM675 364h1v2h-1zM676 366h1v2h-1zM677 368h1v1h-1zM678 369h1v2h-1zM679 369h1v3h-1zM680 363h1v6h-1zM681 357h1v6h-1zM682 351h1v6h-1zM683 347h1v4h-1zM684 345h1v2h-1zM685 343h1v2h-1zM686 341h1v2h-1zM687 337h1v4h-1zM688 331h1v6h-1zM689 325h1v6h-1zM690 319h1v6h-1zM691 316h1v3h-1zM692 317h1v2h-1zM693 319h1v2h-1zM694 321h1v1h-1zM695 322h1v2h-1zM696 318h1v7h-1zM697 304h1v14h-1zM698 291h1v13h-1zM699 277h1v14h-1zM700 271h1v6h-1zM704 271h1v5h-1zM705 276h1v11h-1zM706 287h1v11h-1zM707 298h1v10h-1zM708 308h1v11h-1zM709 319h1v6h-1zM710 316h1v6h-1zM711 310h1v6h-1zM712 304h1v6h-1zM713 301h1v3h-1zM714 303h1v4h-1zM715 307h1v4h-1zM716 311h1v4h-1zM717 315h1v4h-1zM718 319h1v4h-1zM719 323h1v4h-1zM720 327h1v4h-1zM721 331h1v2h-1zM722 328h1v3h-1zM723 324h1v4h-1zM724 321h1v3h-1zM725 318h1v3h-1zM726 316h1v4h-1zM727 320h1v6h-1zM728 326h1v6h-1zM729 332h1v6h-1zM730 338h1v4h-1zM731 342h1v4h-1zM732 346h1v4h-1zM733 350h1v4h-1zM734 354h1v2h-1zM735 353h1v2h-1zM736 352h1v1h-1zM737 351h1v1h-1zM738 349h1v2h-1zM739 348h1v1h-1zM740 349h1v2h-1zM741 351h1v2h-1zM742 353h1v2h-1zM743 355h1v2h-1zM744 357h1v2h-1zM745 359h1v2h-1zM746 361h1v2h-1zM747 363h1v2h-1zM748 365h1v2h-1zM749 367h1v2h-1zM750 369h1v2h-1zM751 371h1v1h-1zM752 372h1v2h-1zM753 374h1v2h-1zM754 376h1v1h-1zM755 377h1v2h-1zM756 379h1v1h-1z"/>
</g>
<g fill="#000" stroke="#000" stroke-width="0.2">
<text x="19.5" y="50" textLength="16.5" lengthAdjust="spacingAndGlyphs">m/s</text>
<text x="36" y="65" text-anchor="end">5,0</text>
<text x="36" y="104" text-anchor="end">4,5</text>
<text x="36" y="143" text-anchor="end">4,0</text>
<text x="36" y="182" text-anchor="end">3,5</text>
<text x="36" y="221" text-anchor="end">3,0</text>
<text x="36" y="260" text-anchor="end">2,5</text>
<text x="36" y="299" text-anchor="end">2,0</text>
<text x="36" y="338" text-anchor="end">1,5</text>
<text x="36" y="377" text-anchor="end">1,0</text>
<text x="36" y="416" text-anchor="end">0,5</text>
<text x="36" y="455" text-anchor="end">0,0</text>
<text x="21.8" y="479" textLength="35" lengthAdjust="spacingAndGlyphs">Montag</text>
<text x="18.1" y="494" textLength="43.3" lengthAdjust="spacingAndGlyphs">26.05.14</text>
<text x="121.2" y="479" textLength="42" lengthAdjust="spacingAndGlyphs">Dienstag</text>
<text x="120.9" y="494" textLength="43.3" lengthAdjust="spacingAndGlyphs">27.05.14</text>
<text x="223.8" y="479" textLength="42.5" lengthAdjust="spacingAndGlyphs">Mittwoch</text>
<text x="223.8" y="494" textLength="43.3" lengthAdjust="spacingAndGlyphs">28.05.14</text>
<text x="320.4" y="479" textLength="55" lengthAdjust="spacingAndGlyphs">Donnerstag</text>
<text x="326.6" y="494" textLength="43.3" lengthAdjust="spacingAndGlyphs">29.05.14</text>
<text x="434.0" y="479" textLength="33.5" lengthAdjust="spacingAndGlyphs">Freitag</text>
<text x="429.5" y="494" textLength="43.3" lengthAdjust="spacingAndGlyphs">30.05.14</text>
<text x="533.3" y="479" textLength="40.5" lengthAdjust="spacingAndGlyphs">Samstag</text>
<text x="532.3" y="494" textLength="43.3" lengthAdjust="spacingAndGlyphs">31.05.14</text>
<text x="636.7" y="479" textLength="39.5" lengthAdjust="spacingAndGlyphs">Sonntag</text>
<text x="635.2" y="494" textLength="43.3" lengthAdjust="spacingAndGlyphs">01.06.14</text>
</g>
</svg>
</body></html>
